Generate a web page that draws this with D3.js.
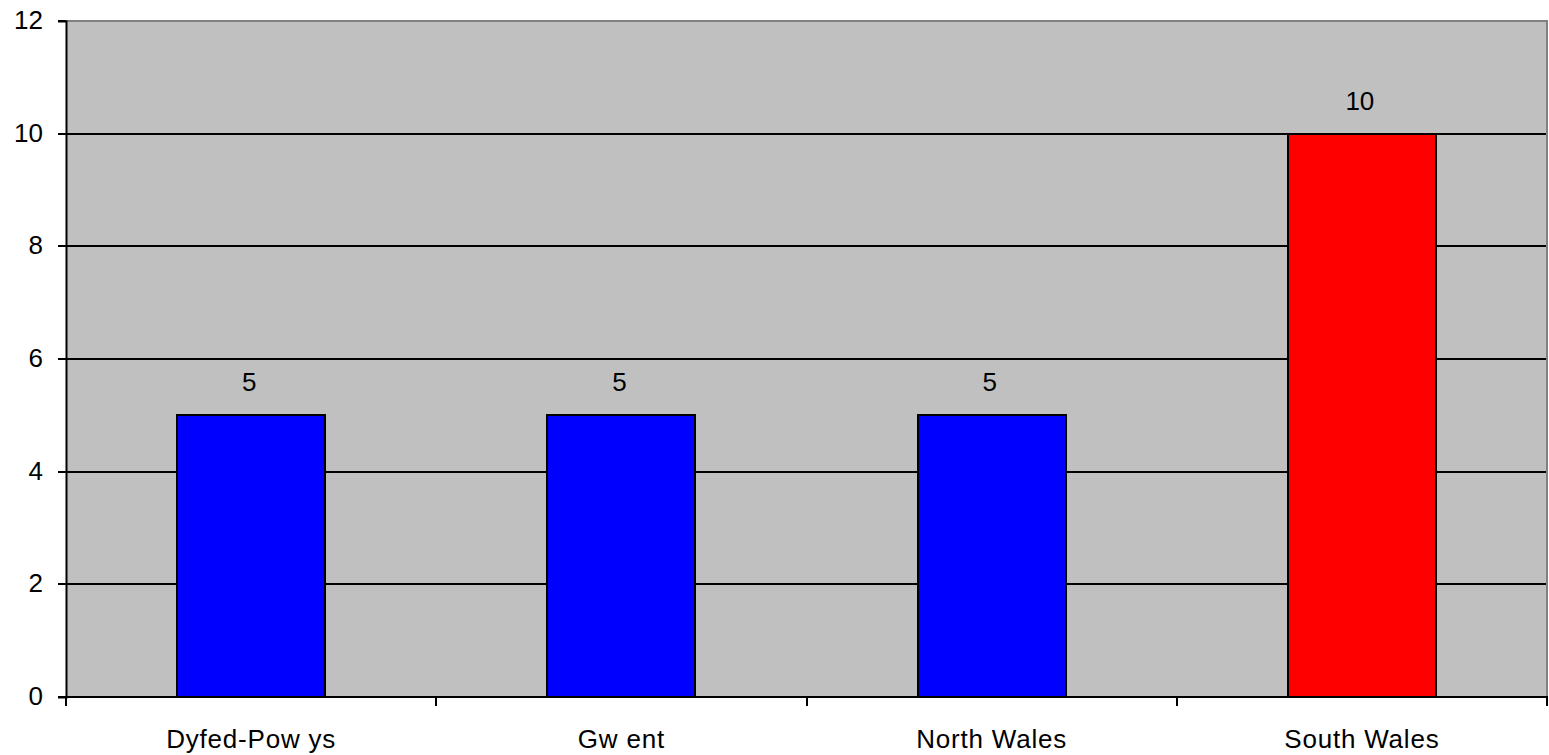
<!DOCTYPE html>
<html>
<head>
<meta charset="utf-8">
<script src="https://cdn.jsdelivr.net/npm/d3@7"></script>
<style>
  html, body { margin: 0; padding: 0; background: #fff; }
  svg { display: block; }
  text { font-family: "Liberation Sans", Arial, sans-serif; fill: #000; }
</style>
</head>
<body>
<svg id="chart" width="1549" height="755"></svg>
<script>
// Police force areas and their counts
const categories = ["Dyfed-Pow ys", "Gw ent", "North Wales", "South Wales"];
const values = [5, 5, 5, 10];
const barColors = ["#0000FF", "#0000FF", "#0000FF", "#FF0000"];
const yTicks = [0, 2, 4, 6, 8, 10, 12];

const svg = d3.select("#chart");
const plot = { left: 66, right: 1547, top: 21, bottom: 697 };

const x = d3.scaleBand().domain(categories).range([plot.left, plot.right]).padding(0);
const y = d3.scaleLinear().domain([0, 12]).range([plot.bottom, plot.top]);
const barW = x.bandwidth() * 0.4;
const py = v => Math.round(y(v));
const px = v => Math.round(v);

// plot area
svg.append("rect")
  .attr("x", plot.left).attr("y", plot.top)
  .attr("width", plot.right - plot.left).attr("height", plot.bottom - plot.top)
  .attr("fill", "#C0C0C0");

// horizontal gridlines
svg.append("g").selectAll("line")
  .data(yTicks.filter(d => d > 0 && d < 12))
  .join("line")
  .attr("x1", plot.left).attr("x2", plot.right)
  .attr("y1", d => py(d)).attr("y2", d => py(d))
  .attr("stroke", "#000").attr("stroke-width", 2);

// top and right border
svg.append("path")
  .attr("d", `M${plot.left},${py(12)}H${plot.right}V${plot.bottom}`)
  .attr("fill", "none").attr("stroke", "#808080").attr("stroke-width", 2);

// bars
svg.append("g").selectAll("rect")
  .data(categories)
  .join("rect")
  .attr("x", d => px(x(d) + (x.bandwidth() - barW) / 2))
  .attr("y", (d, i) => py(values[i]))
  .attr("width", px(barW))
  .attr("height", (d, i) => py(0) - py(values[i]))
  .attr("fill", (d, i) => barColors[i])
  .attr("stroke", "#000").attr("stroke-width", 2);

// value labels
svg.append("g").selectAll("text")
  .data(categories)
  .join("text")
  .attr("x", d => x(d) + x.bandwidth() / 2 - 2)
  .attr("y", (d, i) => y(values[i]) - 24)
  .attr("text-anchor", "middle")
  .attr("font-size", 26)
  .text((d, i) => values[i]);

// y axis
const yAxis = svg.append("g")
  .attr("transform", `translate(${plot.left},0)`)
  .call(d3.axisLeft(y).tickValues(yTicks).tickSize(8).tickPadding(15).tickFormat(d3.format("d")));
yAxis.select(".domain").attr("stroke", "#000").attr("stroke-width", 2);
yAxis.selectAll(".tick").attr("transform", d => `translate(0,${py(d)})`);
yAxis.selectAll(".tick line").attr("stroke", "#000").attr("stroke-width", 2);
yAxis.selectAll(".tick text").attr("font-size", 26)
  .attr("font-family", '"Liberation Sans", Arial, sans-serif').attr("fill", "#000");

// x axis: baseline, boundary ticks, category labels
const xAxis = svg.append("g")
  .attr("transform", `translate(0,${plot.bottom})`)
  .call(d3.axisBottom(x).tickSize(0).tickPadding(0));
xAxis.select(".domain").remove();
xAxis.selectAll(".tick text")
  .attr("y", 51).attr("dy", null)
  .attr("font-size", 26).attr("letter-spacing", 0.8)
  .attr("font-family", '"Liberation Sans", Arial, sans-serif').attr("fill", "#000");

const bounds = categories.map(d => x(d)).concat([x.range()[1]]);
svg.append("line")
  .attr("x1", plot.left - 1).attr("x2", plot.right + 1)
  .attr("y1", plot.bottom).attr("y2", plot.bottom)
  .attr("stroke", "#000").attr("stroke-width", 2);
svg.append("g").selectAll("line")
  .data(bounds)
  .join("line")
  .attr("x1", d => px(d)).attr("x2", d => px(d))
  .attr("y1", plot.bottom).attr("y2", plot.bottom + 9)
  .attr("stroke", "#000").attr("stroke-width", 2);
</script>
</body>
</html>
